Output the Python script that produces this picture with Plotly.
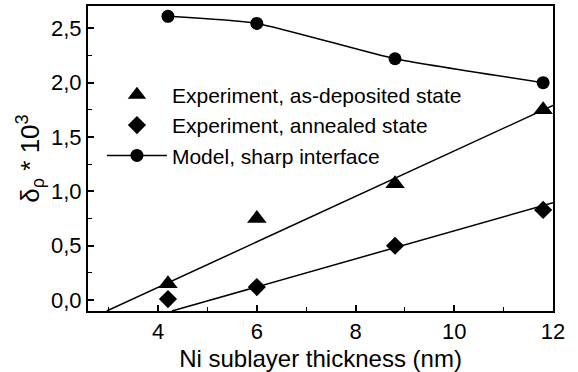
import plotly.graph_objects as go

# Data
thickness = [4.2, 6.0, 8.8, 11.8]
as_deposited = [0.15, 0.75, 1.07, 1.75]
annealed = [0.01, 0.12, 0.50, 0.83]
model_sharp = [2.61, 2.545, 2.22, 2.0]

# Straight guide lines drawn in the reference (end points)
fit_dep_x = [2.96, 12.0]
fit_dep_y = [-0.1, 1.79]
fit_ann_x = [4.28, 12.0]
fit_ann_y = [-0.1, 0.895]

x_ticks = [4, 6, 8, 10, 12]
y_ticks = [0.0, 0.5, 1.0, 1.5, 2.0, 2.5]

font_family = "Liberation Sans, Arial, sans-serif"
black = "#000000"

fig = go.Figure()

fig.add_trace(go.Scatter(x=fit_dep_x, y=fit_dep_y, mode="lines",
                         line=dict(color=black, width=1.5), showlegend=False))
fig.add_trace(go.Scatter(x=fit_ann_x, y=fit_ann_y, mode="lines",
                         line=dict(color=black, width=1.5), showlegend=False))

fig.add_trace(go.Scatter(x=thickness, y=as_deposited, mode="markers",
                         name="Experiment, as-deposited state",
                         marker=dict(symbol="triangle-up", size=17, color=black),
                         cliponaxis=False))
fig.add_trace(go.Scatter(x=thickness, y=annealed, mode="markers",
                         name="Experiment, annealed state",
                         marker=dict(symbol="diamond", size=14, color=black),
                         cliponaxis=False))
fig.add_trace(go.Scatter(x=thickness, y=model_sharp, mode="lines+markers",
                         name="Model, sharp interface",
                         line=dict(color=black, width=1.5, shape="spline", smoothing=0.5),
                         marker=dict(symbol="circle", size=13, color=black),
                         cliponaxis=False))

fig.update_layout(
    width=578, height=372,
    margin=dict(l=88, r=25, t=6, b=61),
    paper_bgcolor="white", plot_bgcolor="white",
    separators=",.",
    font=dict(family=font_family, size=22, color=black),
    showlegend=True,
    legend=dict(x=0.03, y=0.775, xanchor="left", yanchor="top",
                bgcolor="rgba(0,0,0,0)", font=dict(size=21),
                itemwidth=60, tracegroupgap=0, itemsizing="trace"),
    xaxis=dict(range=[2.58, 12.0], tickvals=x_ticks, ticks="inside",
               ticklen=6, tickwidth=1.5, tickcolor=black, automargin=False,
               showline=True, linecolor=black, linewidth=2, mirror=True,
               showgrid=False, zeroline=False,
               minor=dict(dtick=1, tick0=0, ticks="inside", ticklen=4, tickwidth=1.2, tickcolor=black),
               title=dict(text="Ni sublayer thickness (nm)", font=dict(size=24), standoff=9),
               tickfont=dict(size=22)),
    yaxis=dict(range=[-0.1, 2.705], tickvals=y_ticks, tickformat=".1f", ticks="inside",
               ticklen=6, tickwidth=1.5, tickcolor=black, automargin=False,
               showline=True, linecolor=black, linewidth=2, mirror=True,
               showgrid=False, zeroline=False,
               minor=dict(dtick=0.25, tick0=0, ticks="inside", ticklen=4, tickwidth=1.2, tickcolor=black),
               title=dict(text="δ<sub>ρ</sub> * 10<sup>3</sup>", font=dict(size=26), standoff=4),
               tickfont=dict(size=22)),
)

fig.write_html("out.html")
